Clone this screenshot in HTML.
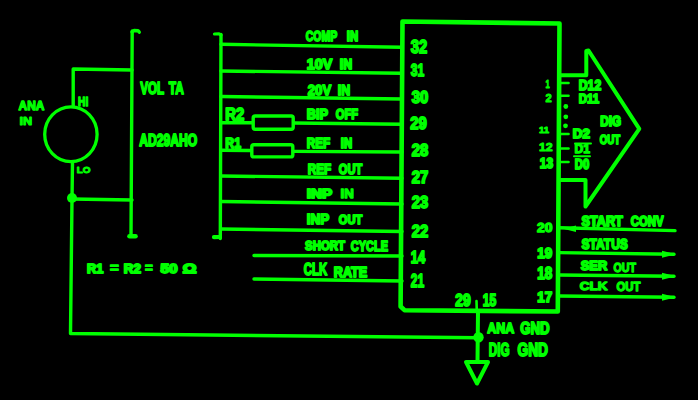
<!DOCTYPE html><html><head><meta charset="utf-8"><style>html,body{margin:0;padding:0;background:#000;width:698px;height:400px;overflow:hidden}svg{display:block}text{font-family:"Liberation Sans",sans-serif;font-weight:bold;fill:#00ff00;stroke:#00ff00;stroke-width:1.8;stroke-linejoin:round}</style></head><body>
<svg width="698" height="400" viewBox="0 0 698 400">
<rect width="698" height="400" fill="#000"/>
<g fill="none" stroke="#00ff00" stroke-linecap="round" stroke-linejoin="round">
<ellipse cx="70.9" cy="134.3" rx="26.2" ry="27.4" stroke-width="3.3"/>
<path d="M73.2 106 L73.2 69 L132 70" stroke-width="3.4"/>
<path d="M72.5 162 L72 199 L70.5 333.5 L478 337.8" stroke-width="3.4"/>
<path d="M72 199 L132 200" stroke-width="3.4"/>
<path d="M132.2 31 L131 236" stroke-width="3.4"/>
<path d="M132 32 L134 30.5 L138 30.7 L139.3 32.2" stroke-width="3.4"/>
<path d="M129.5 236.3 L135.5 236.3" stroke-width="4.6"/>
<path d="M221 34.5 L220.3 238.5" stroke-width="3.4"/>
<path d="M221 35 L219 33.8 L214.5 34" stroke-width="3.2"/>
<path d="M220 237 L214 237.2" stroke-width="4.2"/>
<path d="M221 44.3 L402 47.3" stroke-width="3.4"/>
<path d="M221 71 L402 73.2" stroke-width="3.4"/>
<path d="M221 96.5 L402 99" stroke-width="3.4"/>
<path d="M221 122.7 L252 122.8" stroke-width="3.4"/>
<path d="M294 123 L402 124.3" stroke-width="3.4"/>
<path d="M221 150.3 L250.5 150.5" stroke-width="3.4"/>
<path d="M294.5 151.4 L402 152" stroke-width="3.4"/>
<path d="M221 176 L402 178.2" stroke-width="3.4"/>
<path d="M221 201.5 L402 204" stroke-width="3.4"/>
<path d="M221 229 L402 231.5" stroke-width="3.4"/>
<path d="M254 255.5 L402 256" stroke-width="3.4"/>
<path d="M254 279 L402 281" stroke-width="3.4"/>
<path d="M402.5 21.5 L559.5 23.5 L557.8 311.5 L404.5 310.2 L400.6 306.5 L402.5 21.5" stroke-width="4.6"/>
<path d="M561 75.2 L586.3 75.2 L586.3 51 L588.5 50.5 L639.3 128.8 L585.5 206.5 L585.5 180 L561 180" stroke-width="4"/>
<path d="M561 83 L568.5 83" stroke-width="2.6"/>
<path d="M561 95.7 L568.5 95.7" stroke-width="2.6"/>
<path d="M561 134 L568.5 134" stroke-width="2.6"/>
<path d="M561 148.5 L568.5 148.5" stroke-width="2.6"/>
<path d="M561 162 L568.5 162" stroke-width="2.6"/>
<path d="M559 227.8 L675 230.6" stroke-width="3.4"/>
<path d="M559 252.6 L674 254.3" stroke-width="3.4"/>
<path d="M559 275 L674 276.3" stroke-width="3.4"/>
<path d="M559 296 L674 297.3" stroke-width="3.4"/>
<path d="M476.5 301 L476.8 311" stroke-width="2.6"/>
<path d="M478 311 L477.5 362" stroke-width="4"/>
<path d="M466 362 L488 362 L477 383.5 L466 362" stroke-width="4"/>
<rect x="253.2" y="116" width="40" height="13.3" rx="2" stroke-width="3.4"/>
<rect x="251.8" y="144.8" width="41" height="12.1" rx="2" stroke-width="3.4"/>
<path d="M574 156.2 L590 156.2" stroke-width="2"/>
<path d="M575 143.5 L591 143.5" stroke-width="2"/>
</g>
<g fill="#00ff00">
<circle cx="72" cy="198" r="5"/>
<circle cx="478.5" cy="337.3" r="5.2"/>
<circle cx="565.8" cy="106.5" r="2.4"/>
<circle cx="565.8" cy="116.8" r="2.4"/>
<circle cx="565.5" cy="125.8" r="2.4"/>
<path d="M563 228.8 L576 225.5 L576 232 Z"/>
<path d="M676 254.3 L662 250.8 L662 257.8 Z"/>
<path d="M676 276.3 L662 272.8 L662 279.8 Z"/>
<path d="M676 297.3 L662 293.8 L662 300.8 Z"/>
</g>
<text x="18.59" y="110.18" font-size="12.57" textLength="25.83" lengthAdjust="spacingAndGlyphs" style="stroke-width:1.3">ANA</text>
<text x="19.41" y="124.64" font-size="10.67" textLength="12.69" lengthAdjust="spacingAndGlyphs" style="stroke-width:0.9">IN</text>
<text x="78.08" y="106.48" font-size="12.29" textLength="10.13" lengthAdjust="spacingAndGlyphs" style="stroke-width:1.3">HI</text>
<text x="76.81" y="172.64" font-size="9.44" textLength="13.79" lengthAdjust="spacingAndGlyphs" style="stroke-width:0.9">LO</text>
<text x="140.31" y="94.28" font-size="17.23" textLength="23.88" lengthAdjust="spacingAndGlyphs">VOL</text>
<text x="168.81" y="94.28" font-size="17.23" textLength="14.98" lengthAdjust="spacingAndGlyphs">TA</text>
<text x="139.31" y="146.28" font-size="15.86" textLength="57.88" lengthAdjust="spacingAndGlyphs">AD29AHO</text>
<text x="87.11" y="272.78" font-size="13.11" textLength="16.28" lengthAdjust="spacingAndGlyphs">R1</text>
<text x="110.08" y="271.98" font-size="12.29" textLength="8.73" lengthAdjust="spacingAndGlyphs" style="stroke-width:1.3">=</text>
<text x="123.81" y="272.78" font-size="13.11" textLength="17.18" lengthAdjust="spacingAndGlyphs">R2</text>
<text x="145.09" y="271.98" font-size="12.29" textLength="7.73" lengthAdjust="spacingAndGlyphs" style="stroke-width:1.3">=</text>
<text x="160.51" y="272.78" font-size="13.11" textLength="17.18" lengthAdjust="spacingAndGlyphs">50</text>
<text x="182.81" y="272.78" font-size="13.11" textLength="13.68" lengthAdjust="spacingAndGlyphs">Ω</text>
<text x="225.31" y="120.28" font-size="16.54" textLength="18.88" lengthAdjust="spacingAndGlyphs">R2</text>
<text x="225.31" y="147.98" font-size="15.45" textLength="15.68" lengthAdjust="spacingAndGlyphs">R1</text>
<text x="305.81" y="41.28" font-size="14.49" textLength="31.38" lengthAdjust="spacingAndGlyphs">COMP</text>
<text x="346.81" y="41.28" font-size="14.49" textLength="11.38" lengthAdjust="spacingAndGlyphs">IN</text>
<text x="306.81" y="69.28" font-size="14.49" textLength="25.38" lengthAdjust="spacingAndGlyphs">10V</text>
<text x="339.81" y="69.28" font-size="14.49" textLength="12.38" lengthAdjust="spacingAndGlyphs">IN</text>
<text x="307.81" y="95.28" font-size="15.17" textLength="23.38" lengthAdjust="spacingAndGlyphs">20V</text>
<text x="337.81" y="95.28" font-size="15.17" textLength="12.38" lengthAdjust="spacingAndGlyphs">IN</text>
<text x="306.81" y="119.28" font-size="14.49" textLength="21.38" lengthAdjust="spacingAndGlyphs">BIP</text>
<text x="335.81" y="119.28" font-size="14.49" textLength="22.38" lengthAdjust="spacingAndGlyphs">OFF</text>
<text x="306.81" y="148.28" font-size="14.49" textLength="23.38" lengthAdjust="spacingAndGlyphs">REF</text>
<text x="340.81" y="148.28" font-size="14.49" textLength="11.38" lengthAdjust="spacingAndGlyphs">IN</text>
<text x="307.81" y="174.28" font-size="14.49" textLength="23.38" lengthAdjust="spacingAndGlyphs">REF</text>
<text x="338.81" y="174.28" font-size="14.49" textLength="23.38" lengthAdjust="spacingAndGlyphs">OUT</text>
<text x="306.81" y="197.88" font-size="13.25" textLength="25.38" lengthAdjust="spacingAndGlyphs">INP</text>
<text x="340.58" y="198.08" font-size="13.11" textLength="13.23" lengthAdjust="spacingAndGlyphs" style="stroke-width:1.3">IN</text>
<text x="306.81" y="223.78" font-size="14.49" textLength="22.38" lengthAdjust="spacingAndGlyphs">INP</text>
<text x="338.81" y="224.28" font-size="13.11" textLength="23.38" lengthAdjust="spacingAndGlyphs">OUT</text>
<text x="305.11" y="249.78" font-size="13.11" textLength="39.88" lengthAdjust="spacingAndGlyphs">SHORT</text>
<text x="350.81" y="251.48" font-size="14.76" textLength="37.18" lengthAdjust="spacingAndGlyphs">CYCLE</text>
<text x="303.81" y="275.28" font-size="16.54" textLength="23.38" lengthAdjust="spacingAndGlyphs">CLK</text>
<text x="333.81" y="276.58" font-size="14.21" textLength="33.38" lengthAdjust="spacingAndGlyphs">RATE</text>
<text x="410.81" y="53.28" font-size="18.6" textLength="16.38" lengthAdjust="spacingAndGlyphs">32</text>
<text x="410.81" y="76.28" font-size="17.23" textLength="13.38" lengthAdjust="spacingAndGlyphs">31</text>
<text x="411.81" y="103.28" font-size="15.86" textLength="16.38" lengthAdjust="spacingAndGlyphs">30</text>
<text x="410.31" y="128.78" font-size="16.54" textLength="16.38" lengthAdjust="spacingAndGlyphs">29</text>
<text x="411.81" y="156.28" font-size="15.86" textLength="16.38" lengthAdjust="spacingAndGlyphs">28</text>
<text x="411.81" y="183.28" font-size="15.86" textLength="16.38" lengthAdjust="spacingAndGlyphs">27</text>
<text x="411.81" y="208.28" font-size="17.23" textLength="16.38" lengthAdjust="spacingAndGlyphs">23</text>
<text x="411.81" y="236.88" font-size="16.68" textLength="16.38" lengthAdjust="spacingAndGlyphs">22</text>
<text x="410.81" y="263.28" font-size="17.23" textLength="14.38" lengthAdjust="spacingAndGlyphs">14</text>
<text x="410.81" y="286.78" font-size="18.6" textLength="13.38" lengthAdjust="spacingAndGlyphs">21</text>
<text x="455.31" y="306.28" font-size="16.54" textLength="15.38" lengthAdjust="spacingAndGlyphs">29</text>
<text x="482.81" y="306.28" font-size="16.54" textLength="13.38" lengthAdjust="spacingAndGlyphs">15</text>
<text x="487.31" y="333.28" font-size="15.17" textLength="26.88" lengthAdjust="spacingAndGlyphs">ANA</text>
<text x="520.31" y="334.28" font-size="16.54" textLength="29.38" lengthAdjust="spacingAndGlyphs">GND</text>
<text x="488.81" y="355.78" font-size="17.91" textLength="20.78" lengthAdjust="spacingAndGlyphs">DIG</text>
<text x="517.51" y="356.08" font-size="18.33" textLength="30.48" lengthAdjust="spacingAndGlyphs">GND</text>
<text x="545.4" y="87.64" font-size="11.36" textLength="4.19" lengthAdjust="spacingAndGlyphs" style="stroke-width:0.9">1</text>
<text x="545.4" y="101.64" font-size="11.36" textLength="6.19" lengthAdjust="spacingAndGlyphs" style="stroke-width:0.9">2</text>
<text x="538.9" y="133.34" font-size="9.57" textLength="10.09" lengthAdjust="spacingAndGlyphs" style="stroke-width:0.9">11</text>
<text x="538.9" y="151.24" font-size="11.22" textLength="13.69" lengthAdjust="spacingAndGlyphs" style="stroke-width:0.9">12</text>
<text x="539.81" y="168.08" font-size="14.9" textLength="13.38" lengthAdjust="spacingAndGlyphs">13</text>
<text x="578.81" y="90.28" font-size="14.49" textLength="22.38" lengthAdjust="spacingAndGlyphs">D12</text>
<text x="578.81" y="103.28" font-size="13.11" textLength="20.38" lengthAdjust="spacingAndGlyphs">D11</text>
<text x="572.81" y="138.28" font-size="13.11" textLength="17.08" lengthAdjust="spacingAndGlyphs">D2</text>
<text x="574.59" y="153.18" font-size="12.7" textLength="15.53" lengthAdjust="spacingAndGlyphs" style="stroke-width:1.3">D1</text>
<text x="574.81" y="168.78" font-size="14.49" textLength="14.38" lengthAdjust="spacingAndGlyphs">D0</text>
<text x="600.31" y="126.28" font-size="13.8" textLength="20.88" lengthAdjust="spacingAndGlyphs">DIG</text>
<text x="599.81" y="144.28" font-size="13.11" textLength="20.38" lengthAdjust="spacingAndGlyphs">OUT</text>
<text x="537.09" y="232.48" font-size="12.29" textLength="15.33" lengthAdjust="spacingAndGlyphs" style="stroke-width:1.3">20</text>
<text x="537.31" y="258.28" font-size="14.9" textLength="14.88" lengthAdjust="spacingAndGlyphs">19</text>
<text x="537.31" y="279.28" font-size="15.86" textLength="14.88" lengthAdjust="spacingAndGlyphs">18</text>
<text x="537.31" y="302.28" font-size="14.49" textLength="14.88" lengthAdjust="spacingAndGlyphs">17</text>
<text x="581.51" y="226.48" font-size="14.07" textLength="41.38" lengthAdjust="spacingAndGlyphs">START</text>
<text x="630.81" y="226.48" font-size="13.8" textLength="32.88" lengthAdjust="spacingAndGlyphs">CONV</text>
<text x="581.51" y="249.38" font-size="15.31" textLength="46.38" lengthAdjust="spacingAndGlyphs">STATUS</text>
<text x="580.81" y="270.08" font-size="13.53" textLength="26.38" lengthAdjust="spacingAndGlyphs">SER</text>
<text x="613.59" y="271.68" font-size="13.39" textLength="22.43" lengthAdjust="spacingAndGlyphs" style="stroke-width:1.3">OUT</text>
<text x="579.88" y="290.48" font-size="11.6" textLength="27.53" lengthAdjust="spacingAndGlyphs" style="stroke-width:1.3">CLK</text>
<text x="616.38" y="290.98" font-size="13.25" textLength="24.03" lengthAdjust="spacingAndGlyphs" style="stroke-width:1.3">OUT</text>
</svg></body></html>
